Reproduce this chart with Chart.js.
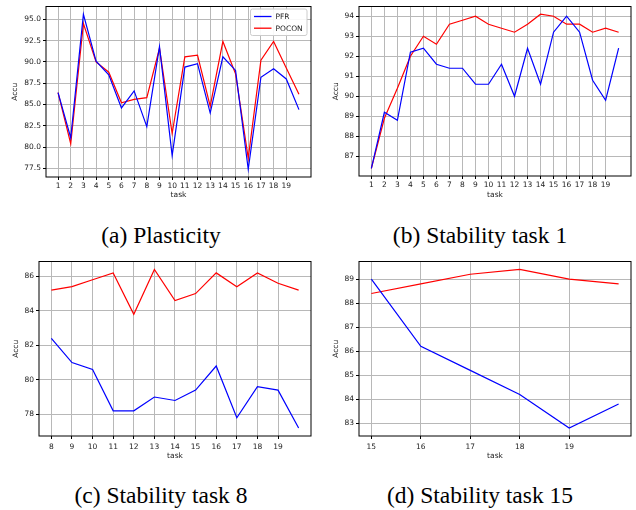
<!DOCTYPE html>
<html>
<head>
<meta charset="utf-8">
<script src="https://cdn.jsdelivr.net/npm/chart.js@4.4.0/dist/chart.umd.min.js"></script>
<style>
  body { margin: 0; background: #fff; }
  #fig { position: relative; width: 636px; height: 510px; overflow: hidden; background: #fff; }
  canvas { position: absolute; }
  .cap { position: absolute; width: 318px; text-align: center; font-family: 'Liberation Serif', 'LiberationSerif', 'Liberation Serif Regular', 'Times New Roman', Times, 'Nimbus Roman', 'Nimbus Roman No9 L', FreeSerif, 'Noto Serif', 'DejaVu Serif', serif; font-size: 23.5px; line-height: 24px; color: #000; white-space: nowrap; }
</style>
</head>
<body>
<div id="fig">
  <canvas id="gA" width="318" height="200" style="left:0;top:0"></canvas>
  <canvas id="gB" width="318" height="200" style="left:318px;top:0"></canvas>
  <canvas id="gC" width="318" height="206" style="left:0;top:255px"></canvas>
  <canvas id="gD" width="318" height="206" style="left:318px;top:255px"></canvas>
  <div class="cap" style="left:2px;top:223px">(a) Plasticity</div>
  <div class="cap" style="left:321px;top:223px">(b) Stability task 1</div>
  <div class="cap" style="left:2px;top:483px">(c) Stability task 8</div>
  <div class="cap" style="left:321px;top:483px">(d) Stability task 15</div>
</div>
<script>
// Datos
const tareas = [1, 2, 3, 4, 5, 6, 7, 8, 9, 10, 11, 12, 13, 14, 15, 16, 17, 18, 19, 20];
const plasPFR = [86.4, 81.1, 95.6, 90.1, 88.5, 84.6, 86.6, 82.4, 91.8, 79.0, 89.4, 89.8, 84.0, 90.6, 89.0, 77.4, 88.2, 89.2, 88.0, 84.4];
const plasPOCON = [86.4, 80.4, 94.5, 90.0, 88.8, 85.2, 85.6, 85.8, 91.6, 81.6, 90.6, 90.8, 84.8, 92.4, 88.6, 78.7, 90.2, 92.4, 89.3, 86.2];

const est1PFR = [86.4, 89.2, 88.8, 92.2, 92.4, 91.6, 91.4, 91.4, 90.6, 90.6, 91.6, 90.0, 92.4, 90.6, 93.2, 94.0, 93.2, 90.8, 89.8, 92.4];
const est1POCON = [86.4, 88.9, 90.4, 92.0, 93.0, 92.6, 93.6, 93.8, 94.0, 93.6, 93.4, 93.2, 93.6, 94.1, 94.0, 93.6, 93.6, 93.2, 93.4, 93.2];

const tareas8 = [8, 9, 10, 11, 12, 13, 14, 15, 16, 17, 18, 19, 20];
const est8PFR = [82.4, 81.0, 80.6, 78.2, 78.2, 79.0, 78.8, 79.4, 80.8, 77.8, 79.6, 79.4, 77.2];
const est8POCON = [85.2, 85.4, 85.8, 86.2, 83.8, 86.4, 84.6, 85.0, 86.2, 85.4, 86.2, 85.6, 85.2];

const tareas15 = [15, 16, 17, 18, 19, 20];
const est15PFR = [89.0, 86.2, 85.2, 84.2, 82.8, 83.8];
const est15POCON = [88.4, 88.8, 89.2, 89.4, 89.0, 88.8];

// Etiquetas de los ejes
const ticksX = [1, 2, 3, 4, 5, 6, 7, 8, 9, 10, 11, 12, 13, 14, 15, 16, 17, 18, 19];
const ticksX8 = [8, 9, 10, 11, 12, 13, 14, 15, 16, 17, 18, 19];
const ticksX15 = [15, 16, 17, 18, 19];
const ticksYA = [77.5, 80.0, 82.5, 85.0, 87.5, 90.0, 92.5, 95.0];
const ticksYB = [87, 88, 89, 90, 91, 92, 93, 94];
const ticksYC = [78, 80, 82, 84, 86];
const ticksYD = [83, 84, 85, 86, 87, 88, 89];

const fuente = { family: 'DejaVu Sans', size: 7.5 };
const colorTexto = '#222';

// marco negro alrededor del area de datos
const marco = {
  id: 'marco',
  afterDraw(chart) {
    const { ctx, chartArea: a } = chart;
    ctx.save();
    ctx.strokeStyle = '#000';
    ctx.lineWidth = 1;
    ctx.strokeRect(a.left, a.top, a.right - a.left, a.bottom - a.top);
    ctx.restore();
  }
};

// leyenda dentro del grafico (a)
const leyenda = {
  id: 'leyenda',
  afterDraw(chart) {
    const { ctx, chartArea: a } = chart;
    const x0 = a.right - 60.5, y0 = a.top + 2.5, w = 56.5, h = 26.5;
    ctx.save();
    ctx.fillStyle = 'rgba(255,255,255,0.9)';
    ctx.strokeStyle = '#cccccc';
    ctx.lineWidth = 1;
    ctx.beginPath();
    ctx.roundRect(x0, y0, w, h, 2);
    ctx.fill();
    ctx.stroke();
    chart.data.datasets.forEach((ds, i) => {
      const y = y0 + 7.5 + i * 11.7;
      ctx.strokeStyle = ds.borderColor;
      ctx.lineWidth = 1.3;
      ctx.beginPath();
      ctx.moveTo(x0 + 3.5, y);
      ctx.lineTo(x0 + 21, y);
      ctx.stroke();
      ctx.fillStyle = colorTexto;
      ctx.font = '7.5px "DejaVu Sans"';
      ctx.textBaseline = 'middle';
      ctx.textAlign = 'left';
      ctx.fillText(ds.label, x0 + 25, y + 0.5);
    });
    ctx.restore();
  }
};

function margen(valores) {
  const lo = Math.min(...valores), hi = Math.max(...valores);
  const m = (hi - lo) * 0.05;
  return [lo - m, hi + m];
}

function panel(id, xs, pfr, pocon, tx, ty, dec, caja, conLeyenda) {
  const [xMin, xMax] = margen(xs);
  const [yMin, yMax] = margen(pfr.concat(pocon));
  const plugins = [marco];
  if (conLeyenda) plugins.push(leyenda);
  return new Chart(document.getElementById(id).getContext('2d'), {
    type: 'line',
    data: {
      datasets: [
        { label: 'PFR', data: xs.map((x, i) => ({ x: x, y: pfr[i] })), borderColor: '#0000ff', borderWidth: 1.2, pointRadius: 0, tension: 0, fill: false },
        { label: 'POCON', data: xs.map((x, i) => ({ x: x, y: pocon[i] })), borderColor: '#ff0000', borderWidth: 1.2, pointRadius: 0, tension: 0, fill: false }
      ]
    },
    options: {
      responsive: false,
      animation: false,
      devicePixelRatio: 1,
      layout: { padding: { top: caja.top, right: caja.right, left: 0, bottom: 0 } },
      plugins: { legend: { display: false }, tooltip: { enabled: false } },
      scales: {
        x: {
          type: 'linear',
          min: xMin,
          max: xMax,
          afterBuildTicks: s => { s.ticks = tx.map(v => ({ value: v })); },
          afterFit: s => { s.height = caja.xAlto; },
          border: { display: false },
          grid: { color: '#b8b8b8', lineWidth: 1, tickColor: '#000', tickLength: 3 },
          ticks: { font: fuente, color: colorTexto, padding: caja.padX, maxRotation: 0, autoSkip: false },
          title: { display: true, text: 'task', font: fuente, color: colorTexto, padding: { top: 0, bottom: 0 } }
        },
        y: {
          type: 'linear',
          min: yMin,
          max: yMax,
          afterBuildTicks: s => { s.ticks = ty.map(v => ({ value: v })); },
          afterFit: s => { s.width = caja.yAncho; },
          border: { display: false },
          grid: { color: '#b8b8b8', lineWidth: 1, tickColor: '#000', tickLength: 3 },
          ticks: { font: fuente, color: colorTexto, padding: 2, autoSkip: false, callback: v => v.toFixed(dec) },
          title: { display: true, text: 'Accu', font: fuente, color: colorTexto, padding: { top: caja.tituloY, bottom: 0 } }
        }
      }
    },
    plugins: plugins
  });
}

panel('gA', tareas, plasPFR, plasPOCON, ticksX, ticksYA, 1, { top: 5, right: 7, xAlto: 23, yAncho: 46, padX: 2, tituloY: 11 }, true);
panel('gB', tareas, est1PFR, est1POCON, ticksX, ticksYB, 0, { top: 0.5, right: 5, xAlto: 24, yAncho: 41, padX: 2, tituloY: 14 }, false);
panel('gC', tareas8, est8PFR, est8POCON, ticksX8, ticksYC, 0, { top: 5, right: 7, xAlto: 25, yAncho: 39, padX: 4, tituloY: 11.5 }, false);
panel('gD', tareas15, est15PFR, est15POCON, ticksX15, ticksYD, 0, { top: 5, right: 5, xAlto: 25, yAncho: 41, padX: 4, tituloY: 14 }, false);
</script>
</body>
</html>
